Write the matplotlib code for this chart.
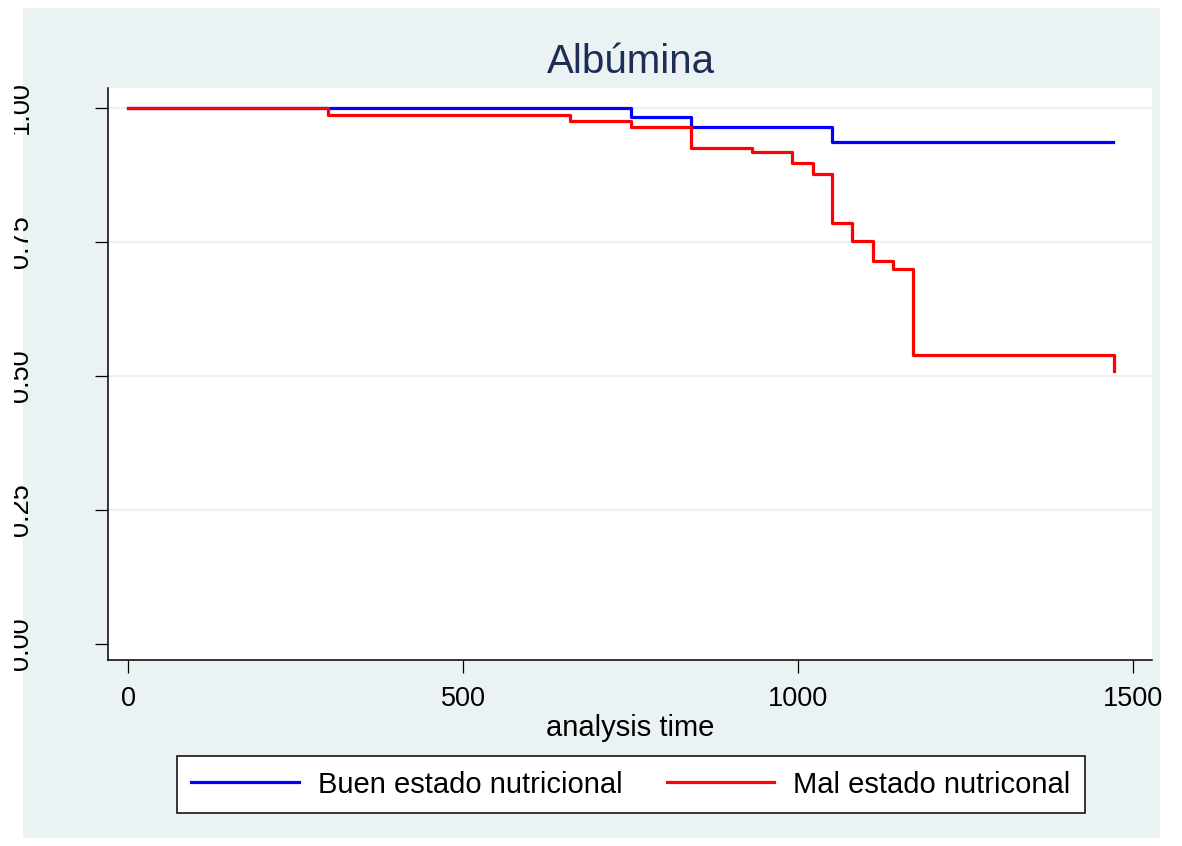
import matplotlib
matplotlib.use("Agg")
import matplotlib.pyplot as plt
from matplotlib.patches import Rectangle
from matplotlib.transforms import Bbox, TransformedBbox

# Kaplan-Meier estimates
buen_t = [0, 751, 840, 1051, 1470]
buen_s = [1.0, 0.983, 0.965, 0.937, 0.937]

mal_t = [0, 299, 660, 751, 840, 931, 991, 1022, 1051, 1081, 1111, 1142, 1171, 1471]
mal_s = [1.0, 0.986, 0.975, 0.964, 0.926, 0.917, 0.897, 0.876, 0.785, 0.752, 0.7145, 0.6996, 0.539, 0.509]

xticks = [0, 500, 1000, 1500]
yticks = [0.00, 0.25, 0.50, 0.75, 1.00]
ytick_labels = ["0.00", "0.25", "0.50", "0.75", "1.00"]

BG = "#EAF2F3"
W, H, DPI = 1182, 846, 100

plt.rcParams['font.family'] = ['Liberation Sans', 'DejaVu Sans']

fig = plt.figure(figsize=(W / DPI, H / DPI), dpi=DPI, facecolor="white")
fig.patches.append(Rectangle((23 / W, 1 - 838 / H), (1160 - 23) / W, 830 / H,
                             transform=fig.transFigure, facecolor=BG, edgecolor="none", zorder=-10))

ax = fig.add_axes([108 / W, 1 - 660 / H, (1152 - 108) / W, (660 - 88) / H])
ax.set_facecolor("white")

for y in [0.25, 0.50, 0.75, 1.00]:
    ax.axhline(y, color=BG, lw=1.6, zorder=1)

ax.step(buen_t, buen_s, where="post", color="#0000FF", lw=2.3, label="Buen estado nutricional", zorder=3)
ax.step(mal_t, mal_s, where="post", color="#FF0000", lw=2.3, label="Mal estado nutriconal", zorder=3)

ax.set_xlim(-29.85, 1528)
ax.set_ylim(-0.0299, 1.0373)

for s in ["top", "right"]:
    ax.spines[s].set_visible(False)
for s in ["left", "bottom"]:
    ax.spines[s].set_linewidth(1.1)

ax.set_xticks(xticks)
ax.set_xticklabels([str(v) for v in xticks])
ax.tick_params(axis="x", length=9.5, width=0.9, pad=9, labelsize=19.5)

ax.set_yticks(yticks)
ax.set_yticklabels(ytick_labels, rotation=90, va="center")
ax.tick_params(axis="y", length=9.5, width=0.9, pad=44, labelsize=19.5)

# Stata export cuts the rotated y labels at the left edge
clip = TransformedBbox(Bbox.from_extents(14 / W, 0, 0.2, 1), fig.transFigure)
for lab in ax.get_yticklabels():
    lab.set_clip_box(clip)
    lab.set_clip_on(True)

ax.set_xlabel("analysis time", fontsize=21, labelpad=2)

fig.text(631 / W, 1 - 62 / H, "Albúmina", ha="center", va="center", fontsize=29, color="#1E2D53")

leg = fig.legend(loc="center", bbox_to_anchor=(631 / W, 1 - 784.5 / H), ncol=2, fontsize=21,
                 frameon=True, fancybox=False, edgecolor="black", facecolor="white", framealpha=1,
                 handlelength=3.7, handletextpad=0.65, columnspacing=1.5, borderpad=0.5,
                 borderaxespad=0)
leg.get_frame().set_linewidth(1.1)

fig.savefig("out.png", dpi=DPI)
